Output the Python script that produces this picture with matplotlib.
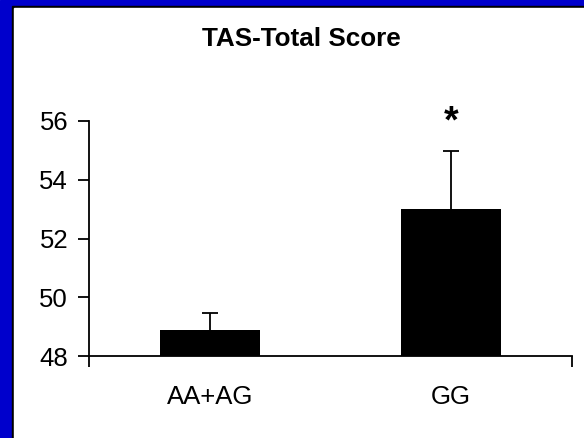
import matplotlib.pyplot as plt
from matplotlib.patches import Rectangle

plt.rcParams['font.family'] = ['Liberation Sans', 'DejaVu Sans']

groups = ['AA+AG', 'GG']
means = [48.9, 53.0]
sem = [0.55, 1.97]
y_ticks = [48, 50, 52, 54, 56]
sig_marks = ['', '*']

fig = plt.figure(figsize=(5.84, 4.38), dpi=100)

# slide-style frame: blue edge, thin black rule, white panel
fig.patches.append(Rectangle((0, 0), 1, 1, transform=fig.transFigure,
                             color='#0000cc', zorder=-3))
fig.patches.append(Rectangle((12 / 584, 0), 572 / 584, 432 / 438,
                             transform=fig.transFigure, color='black', zorder=-2))
fig.patches.append(Rectangle((14 / 584, 0), 570 / 584, 430 / 438,
                             transform=fig.transFigure, color='white', zorder=-1))

ax = fig.add_axes([89 / 584, 82 / 438, 483 / 584, 235 / 438])
ax.set_facecolor('none')

x = list(range(len(groups)))
ax.bar(x, [m - y_ticks[0] for m in means], bottom=y_ticks[0], width=0.414,
       color='black', zorder=2)
eb = ax.errorbar(x, means, yerr=[[0] * len(sem), sem], fmt='none', ecolor='black',
                 elinewidth=1.3, capsize=6, capthick=1.3, zorder=1)
# upper whisker only
eb[1][0].set_visible(False)

for xi, mark in zip(x, sig_marks):
    if mark:
        ax.text(xi, 55.95, mark, ha='center', va='center', fontsize=27,
                fontweight='bold', clip_on=False)

ax.set_xlim(-0.5, len(groups) - 0.5)
ax.set_ylim(y_ticks[0], y_ticks[-1])
ax.set_yticks(y_ticks)
ax.tick_params(axis='y', direction='out', length=8, width=1.3, labelsize=18.5, pad=7)

# category-boundary ticks on the x axis, names placed as minor labels
ax.set_xticks([-0.5, len(groups) - 0.5])
ax.set_xticklabels(['', ''])
ax.tick_params(axis='x', which='major', direction='out', length=8, width=1.3)
ax.set_xticks(x, minor=True)
ax.set_xticklabels(groups, minor=True)
ax.tick_params(axis='x', which='minor', length=0, labelsize=18.5, pad=21)

for side in ['top', 'right']:
    ax.spines[side].set_visible(False)
for side in ['left', 'bottom']:
    ax.spines[side].set_linewidth(1.3)

fig.text(301 / 584, 1 - 39 / 438, 'TAS-Total Score', ha='center', va='center',
         fontsize=18.8, fontweight='bold')

fig.savefig('out.png', dpi=100)
